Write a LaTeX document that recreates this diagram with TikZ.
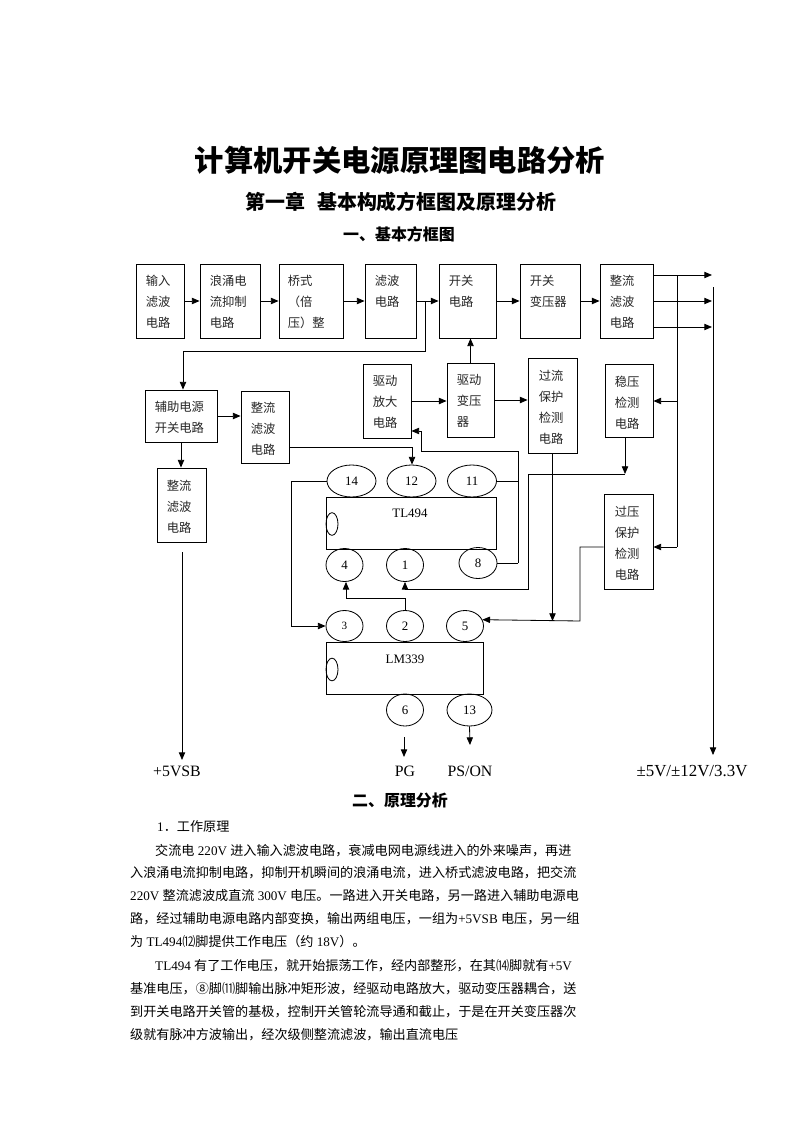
\documentclass[tikz,border=0pt]{standalone}
\usepackage{fontspec}
\setmainfont{Liberation Serif}
\newfontfamily\cjk{Noto Sans CJK SC}
\usetikzlibrary{arrows.meta,shapes.geometric,fit,calc}
\XeTeXlinebreaklocale "zh"
\XeTeXlinebreakskip=0pt plus 1pt
\newcommand\ltn[1]{{\rmfamily #1}}
\newcommand\gap{\hspace{0.25em}}
\tikzset{
  ln/.style={line width=0.7pt},
  arr/.style={ln, -{Triangle[length=2.3mm,width=1.9mm]}},
  box/.style={draw, line width=0.7pt, inner sep=0pt},
  btxt/.style={anchor=north west, inner sep=0pt, align=left, text=black!85,
    font=\cjk\fontsize{10.5}{17.9}\selectfont},
  pin/.style={draw, ellipse, line width=0.7pt, inner sep=0pt,
    font=\fontsize{11}{13}\selectfont},
  pinL/.style={pin, minimum width=1.47cm, minimum height=0.96cm},
  pinS/.style={pin, minimum width=1.11cm, minimum height=0.96cm},
  ic/.style={draw, line width=0.7pt, inner sep=0pt},
  notch/.style={draw, ellipse, line width=0.7pt, inner sep=0pt, minimum width=0.36cm, minimum height=0.68cm},
  lab/.style={inner sep=0pt, font=\fontsize{13.5}{16}\selectfont},
  body/.style={anchor=base west, inner sep=0pt, font=\cjk\fontsize{11.2}{14}\selectfont},
  head/.style={inner sep=0pt, font=\cjk\bfseries\fontsize{13.6}{16}\selectfont},
}
\begin{document}
\begin{tikzpicture}[x=0.03cm,y=-0.03cm]
\fill[white] (0,0) rectangle (800,1132);
\useasboundingbox (0,0) rectangle (800,1132);

% headings
\node[inner sep=0pt, font=\cjk\bfseries\fontsize{25}{30}\selectfont] (title) at (400,160) {计算机开关电源原理图电路分析};
\node[inner sep=0pt, font=\cjk\bfseries\fontsize{17}{20}\selectfont] (chap) at (401,202) {第一章\hspace{10pt}基本构成方框图及原理分析};
\node[head] (sec1) at (399,234) {一、基本方框图};

% top row boxes
\node[box, fit={(136,264)(184,338)}] (b1) {};
\node[box, fit={(200,264)(260,338)}] (b2) {};
\node[box, fit={(279,264)(343,338)}] (b3) {};
\node[box, fit={(365,264)(416,338)}] (b4) {};
\node[box, fit={(439,264)(496,338)}] (b5) {};
\node[box, fit={(520,264)(580,338)}] (b6) {};
\node[box, fit={(600,264)(653,338)}] (b7) {};
\node[btxt] (t1) at ($(b1.north west)+(10,11)$) {输入\\滤波\\电路};
\node[btxt] (t2) at ($(b2.north west)+(10,11)$) {浪涌电\\流抑制\\电路};
\node[btxt] (t3) at ($(b3.north west)+(9,11)$) {桥式\\（倍\\压）整};
\node[btxt] (t4) at ($(b4.north west)+(10,11)$) {滤波\\电路};
\node[btxt] (t5) at ($(b5.north west)+(10,11)$) {开关\\电路};
\node[btxt] (t6) at ($(b6.north west)+(10,11)$) {开关\\变压器};
\node[btxt] (t7) at ($(b7.north west)+(10,11)$) {整流\\滤波\\电路};

% middle boxes
\node[box, fit={(145,390)(217,442)}] (aux) {};
\node[box, fit={(241,391)(289,463)}] (rf2) {};
\node[box, fit={(157,468)(206,542)}] (rf3) {};
\node[box, fit={(363,364)(411,438)}] (dra) {};
\node[box, fit={(447,363)(494,437)}] (drt) {};
\node[box, fit={(528,358)(577,453)}] (ocp) {};
\node[box, fit={(605,364)(653,437)}] (vreg) {};
\node[box, fit={(604,494)(653,589)}] (ovp) {};
\node[btxt] (taux) at ($(aux.north west)+(10,11)$) {辅助电源\\开关电路};
\node[btxt] (trf2) at ($(rf2.north west)+(10,11)$) {整流\\滤波\\电路};
\node[btxt] (trf3) at ($(rf3.north west)+(10,12)$) {整流\\滤波\\电路};
\node[btxt] (tdra) at ($(dra.north west)+(10,12)$) {驱动\\放大\\电路};
\node[btxt] (tdrt) at ($(drt.north west)+(10,12)$) {驱动\\变压\\器};
\node[btxt] (tocp) at ($(ocp.north west)+(11,12)$) {过流\\保护\\检测\\电路};
\node[btxt] (tvreg) at ($(vreg.north west)+(10,12)$) {稳压\\检测\\电路};
\node[btxt] (tovp) at ($(ovp.north west)+(11,12)$) {过压\\保护\\检测\\电路};

% TL494
\node[ic, fit={(326,497)(496,549)}] (tl) {};
\node[notch] (n1) at (332,524) {};
\node[inner sep=0pt, font=\fontsize{11}{13}\selectfont] (tll) at (410,513) {TL494};
\node[pinL] (pin14) at (351.5,481) {14};
\node[pinL] (pin12) at (411.5,481) {12};
\node[pinL] (pin11) at (472,481) {11};
\node[pinS, minimum height=0.99cm] (pin4) at (344.5,565) {4};
\node[pinS, minimum height=0.99cm] (pin1) at (405,565) {1};
\node[pinS, minimum width=1.14cm, minimum height=0.93cm] (pin8) at (478,563) {8};

% LM339
\node[ic, fit={(326,642)(483,694)}] (lm) {};
\node[notch] (n2) at (332,669.5) {};
\node[inner sep=0pt, font=\fontsize{11}{13}\selectfont] (lml) at (405,659) {LM339};
\node[pinS, minimum height=0.93cm, font=\fontsize{9.5}{11}\selectfont] (pin3) at (344.5,626) {3};
\node[pinS, minimum height=0.93cm] (pin2) at (405,626) {2};
\node[pinS, minimum height=0.93cm] (pin5) at (465,626) {5};
\node[pinS] (pin6) at (405,710) {6};
\node[pin, minimum width=1.35cm, minimum height=0.96cm] (pin13) at (469.5,710) {13};

% bottom labels
\node[lab] (l5vsb) at (177,771) {+5VSB};
\node[lab] (lpg) at (405,771) {PG};
\node[lab] (lps) at (470,771) {PS/ON};
\node[lab, font=\fontsize{14.4}{16}\selectfont] (lout) at (692,771) {±5V/±12V/3.3V};

% coordinates
\coordinate (j1) at (425,301);
\coordinate (c1) at (425,351);
\coordinate (c2) at (183,351);
\coordinate (o1) at (712,275);
\coordinate (o2) at (712,301);
\coordinate (o3) at (712,327);
\coordinate (v1t) at (677,275);
\coordinate (v1a) at (677,401);
\coordinate (v1b) at (677,547);
\coordinate (v2t) at (713,287);
\coordinate (v2b) at (713,755);
\coordinate (k1) at (625,474);
\coordinate (k2) at (528,474);
\coordinate (k3) at (528,589);
\coordinate (m1) at (580,547);
\coordinate (m2) at (580,621);
\coordinate (f1) at (518,481);
\coordinate (f2) at (518,563);
\coordinate (f3) at (518,451);
\coordinate (f4) at (421,451);
\coordinate (f5) at (421,431);
\coordinate (g1) at (412,447);
\coordinate (s1) at (182,552);
\coordinate (s2) at (182,760);
\coordinate (h1) at (291,481);
\coordinate (h2) at (291,626);
\coordinate (p1) at (405,598);
\coordinate (p2) at (346,598);
\coordinate (q1) at (470,745);
\coordinate (r1) at (404,737);
\coordinate (r2) at (404,757);

% top row connectors
\draw[arr] (b1.east) -- (b2.west);
\draw[arr] (b2.east) -- (b3.west);
\draw[arr] (b3.east) -- (b4.west);
\draw[arr] (b4.east) -- (b5.west);
\draw[arr] (b5.east) -- (b6.west);
\draw[arr] (b6.east) -- (b7.west);
\draw[arr] (j1) -- (c1) -- (c2) -- (c2 |- aux.north);

% outputs
\draw[arr] (b7.east |- o1) -- (o1);
\draw[arr] (b7.east |- o2) -- (o2);
\draw[arr] (b7.east |- o3) -- (o3);
\draw[ln] (v1t) -- (v1b);
\draw[arr] (v2t) -- (v2b);
\draw[arr] (v1a) -- (vreg.east |- v1a);
\draw[arr] (v1b) -- (ovp.east |- v1b);

% regulation feedback
\draw[arr] (vreg.south -| k1) -- (k1);
\draw[arr] (k1) -- (k2) -- (k3) -- (k3 -| pin1.south) -- (pin1.south);
\draw[arr] (ovp.west |- m1) -- (m1) -- (m2) -- (pin5.20);
\draw[arr] (ocp.south) -- (ocp.south |- m2);

% drive chain
\draw[arr] (dra.east) -- (dra.east -| drt.west);
\draw[arr] (drt.east) -- (drt.east -| ocp.west);
\draw[arr] (drt.north) -- (drt.north |- b5.south);
\draw[ln] (pin11.east) -- (f1);
\draw[ln] (pin8.east) -- (f2);
\draw[arr] (f2) -- (f3) -- (f4) -- (f5) -- (f5 -| dra.east);

% auxiliary
\draw[arr] (aux.east) -- (aux.east -| rf2.west);
\draw[arr] (aux.south) -- (aux.south |- rf3.north);
\draw[arr] (rf2.east |- g1) -- (g1) -- (g1 |- pin12.north);
\draw[arr] (s1) -- (s2);

% chip links
\draw[arr] (pin14.west) -- (h1) -- (h2) -- (pin3.west);
\draw[arr] (pin2.north) -- (p1) -- (p2) -- (p2 |- pin4.south);
\draw[arr] (pin13.south) -- (q1);
\draw[arr] (r1) -- (r2);

% text section
\node[head] (sec2) at (400,800) {二、原理分析};
\node[body] (w0) at (157,831) {\ltn{1}．工作原理};
\node[body] (w1) at (155,855) {\hbox to 12.75cm{交流电\gap{}\ltn{220V}\gap{}进入输入滤波电路，衰减电网电源线进入的外来噪声，再进}};
\node[body] (w2) at (130,877) {\hbox to 13.5cm{入浪涌电流抑制电路，抑制开机瞬间的浪涌电流，进入桥式滤波电路，把交流}};
\node[body] (w3) at (130,900) {\hbox to 13.5cm{\ltn{220V}\gap{}整流滤波成直流\gap{}\ltn{300V}\gap{}电压。一路进入开关电路，另一路进入辅助电源电}};
\node[body] (w4) at (130,923) {\hbox to 13.5cm{路，经过辅助电源电路内部变换，输出两组电压，一组为\ltn{+5VSB}\gap{}电压，另一组}};
\node[body] (w5) at (130,946) {为\gap{}\ltn{TL494}⑿脚提供工作电压（约\gap{}\ltn{18V}）。};
\node[body] (w6) at (155,970) {\hbox to 12.75cm{\ltn{TL494}\gap{}有了工作电压，就开始振荡工作，经内部整形，在其⒁脚就有\ltn{+5V}}};
\node[body] (w7) at (130,993) {\hbox to 13.5cm{基准电压，⑧脚⑾脚输出脉冲矩形波，经驱动电路放大，驱动变压器耦合，送}};
\node[body] (w8) at (130,1016) {\hbox to 13.5cm{到开关电路开关管的基极，控制开关管轮流导通和截止，于是在开关变压器次}};
\node[body] (w9) at (130,1039) {级就有脉冲方波输出，经次级侧整流滤波，输出直流电压};
\end{tikzpicture}
\end{document}
